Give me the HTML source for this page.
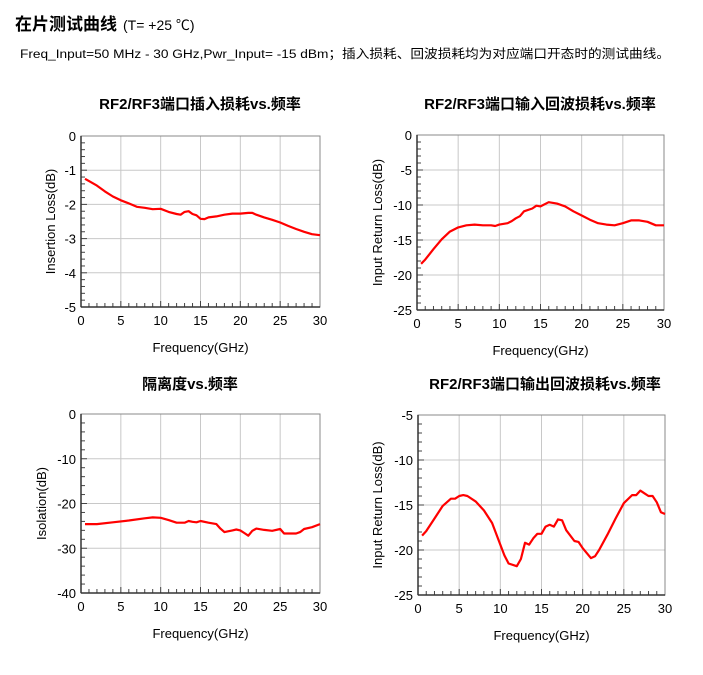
<!DOCTYPE html>
<html><head><meta charset="utf-8"><style>
body{margin:0;background:#fff;width:703px;height:675px;overflow:hidden;font-family:"Liberation Sans","Noto Sans CJK SC",sans-serif;}
svg{position:absolute;left:0;top:0}
</style></head><body>
<svg id="s" width="703" height="675" xmlns="http://www.w3.org/2000/svg">
<text x="15" y="30" font-size="17" font-weight="bold" fill="#000" font-family="Liberation Sans,Noto Sans CJK SC,sans-serif">在片测试曲线<tspan font-weight="normal" font-size="14" dx="6">(T= +25 ℃)</tspan></text>
<text x="20" y="58" font-size="12.4" fill="#000" textLength="650" lengthAdjust="spacingAndGlyphs" font-family="Liberation Sans,Noto Sans CJK SC,sans-serif">Freq_Input=50 MHz - 30 GHz,Pwr_Input= -15 dBm；插入损耗、回波损耗均为对应端口开态时的测试曲线。</text>
</svg>
<script>
// Chart 1: insertion loss
const c1X=[0.5,1,2,3,4,5,6,7,8,9,10,11,12,12.5,13,13.5,14,14.5,15,15.5,16,17,18,19,20,21,21.5,22,23,24,25,26,27,28,29,30];
const c1Y=[-1.25,-1.32,-1.45,-1.62,-1.77,-1.88,-1.97,-2.07,-2.1,-2.14,-2.13,-2.22,-2.28,-2.3,-2.22,-2.2,-2.28,-2.32,-2.42,-2.43,-2.38,-2.35,-2.3,-2.27,-2.27,-2.25,-2.25,-2.3,-2.38,-2.45,-2.53,-2.63,-2.72,-2.8,-2.87,-2.9];
// Chart 2: input return loss
const c2X=[0.5,1,2,3,4,5,6,7,8,9,9.5,10,11,11.5,12,12.5,13,14,14.5,15,16,17,18,19,20,21,22,23,24,25,26,27,28,29,30];
const c2Y=[-18.4,-17.8,-16.3,-14.9,-13.8,-13.2,-12.9,-12.8,-12.9,-12.9,-13.0,-12.8,-12.6,-12.3,-11.9,-11.6,-10.9,-10.5,-10.1,-10.2,-9.6,-9.8,-10.2,-10.9,-11.5,-12.1,-12.6,-12.8,-12.9,-12.6,-12.2,-12.2,-12.4,-12.9,-12.9];
// Chart 3: isolation
const c3X=[0.5,2,4,6,8,9,10,11,12,13,13.5,14,14.5,15,16,17,17.5,18,19,19.5,20,20.5,21,21.5,22,23,24,25,25.5,26,27,27.5,28,29,30];
const c3Y=[-24.6,-24.6,-24.2,-23.8,-23.3,-23.1,-23.2,-23.7,-24.3,-24.3,-23.9,-24.1,-24.2,-23.9,-24.3,-24.6,-25.6,-26.4,-26.0,-25.8,-26.0,-26.6,-27.2,-26.1,-25.6,-25.9,-26.1,-25.7,-26.7,-26.7,-26.7,-26.4,-25.7,-25.3,-24.6];
// Chart 4: output return loss
const c4X=[0.5,1,2,3,4,4.5,5,5.5,6,7,8,9,10,10.5,11,12,12.5,13,13.5,14,14.5,15,15.5,16,16.5,17,17.5,18,19,19.5,20,21,21.5,22,23,24,25,26,26.5,27,27.5,28,28.5,29,29.5,30];
const c4Y=[-18.4,-17.9,-16.5,-15.1,-14.3,-14.3,-14.0,-13.9,-14.0,-14.6,-15.6,-17.0,-19.4,-20.6,-21.5,-21.8,-21.0,-19.2,-19.4,-18.7,-18.2,-18.2,-17.4,-17.2,-17.4,-16.6,-16.7,-17.8,-19.0,-19.1,-19.8,-20.9,-20.7,-20.0,-18.3,-16.5,-14.8,-13.9,-13.9,-13.4,-13.7,-14.0,-14.0,-14.7,-15.8,-16.0];

const charts=[
 {n:'insertion-loss',title:'RF2/RF3端口插入损耗vs.频率',tx:200,ty:109,L:81,R:320,T:136,B:307,ymin:-5,ymax:0,ystep:1,ylab:'Insertion Loss(dB)',ylx:55,xs:c1X,ys:c1Y,yticks:['0','-1','-2','-3','-4','-5']},
 {n:'input-return-loss',title:'RF2/RF3端口输入回波损耗vs.频率',tx:540,ty:109,L:417,R:664,T:135,B:310,ymin:-25,ymax:0,ystep:5,ylab:'Input Return Loss(dB)',ylx:382,xs:c2X,ys:c2Y,yticks:['0','-5','-10','-15','-20','-25']},
 {n:'isolation',title:'隔离度vs.频率',tx:190,ty:389,L:81,R:320,T:414,B:593,ymin:-40,ymax:0,ystep:10,ylab:'Isolation(dB)',ylx:46,xs:c3X,ys:c3Y,yticks:['0','-10','-20','-30','-40']},
 {n:'output-return-loss',title:'RF2/RF3端口输出回波损耗vs.频率',tx:545,ty:389,L:418,R:665,T:415,B:595,ymin:-25,ymax:-5,ystep:5,ylab:'Input Return Loss(dB)',ylx:382,xs:c4X,ys:c4Y,yticks:['-5','-10','-15','-20','-25']}
];
const xticks=['0','5','10','15','20','25','30'];
const NS='http://www.w3.org/2000/svg';
const svg=document.getElementById('s');
function mk(tag,at,par){const e=document.createElementNS(NS,tag);for(const k in at)e.setAttribute(k,at[k]);(par||svg).appendChild(e);return e;}
charts.forEach(c=>{
 const g=mk('g',{});
 
 
 const sx=v=>c.L+(v-0)/30*(c.R-c.L);
 const sy=v=>c.T+(c.ymax-v)/(c.ymax-c.ymin)*(c.B-c.T);
 const t=mk('text',{x:c.tx,y:c.ty,'font-size':15,'font-weight':'bold','text-anchor':'middle',fill:'#000'},g);t.textContent=c.title;
 
 
 for(let i=1;i<6;i++){const l=mk('line',{x1:sx(i*5),x2:sx(i*5),y1:c.T,y2:c.B,stroke:'#c8c8c8','stroke-width':1},g);}
 for(let v=c.ymax-c.ystep;v>c.ymin+0.001;v-=c.ystep){const l=mk('line',{x1:c.L,x2:c.R,y1:sy(v),y2:sy(v),stroke:'#c8c8c8','stroke-width':1},g);}
 for(let i=0;i<=30;i++){const l=mk('line',{x1:sx(i),x2:sx(i),y1:c.B,y2:c.B-(i%5?4:6),stroke:'#444'},g);}
 const nm=(c.ymax-c.ymin)/c.ystep*5;
 for(let i=0;i<=nm;i++){const v=c.ymin+i*c.ystep/5;const l=mk('line',{x1:c.L,x2:c.L+(i%5?4:6),y1:sy(v),y2:sy(v),stroke:'#444'},g);}
 const fr=mk('rect',{x:c.L,y:c.T,width:c.R-c.L,height:c.B-c.T,fill:'none',stroke:'#888','stroke-width':1},g);
 
 mk('line',{x1:c.L,x2:c.L,y1:c.T,y2:c.B,stroke:'#333','stroke-width':1.5},g);
 mk('line',{x1:c.L,x2:c.R,y1:c.B,y2:c.B,stroke:'#333','stroke-width':1.5},g);
 xticks.forEach((s,i)=>{const e=mk('text',{x:sx(i*5),y:c.B+18,'font-size':13,'text-anchor':'middle',fill:'#000'},g);e.textContent=s;});
 c.yticks.forEach((s,i)=>{const e=mk('text',{x:c.L-5,y:sy(c.ymax-i*c.ystep)+5,'font-size':13,'text-anchor':'end',fill:'#000'},g);e.textContent=s;});
 const xl=mk('text',{x:(c.L+c.R)/2,y:c.B+45,'font-size':13,'text-anchor':'middle',fill:'#000'},g);xl.textContent='Frequency(GHz)';
 
 const yl=mk('text',{x:c.ylx,y:(c.T+c.B)/2,'font-size':13,'text-anchor':'middle',fill:'#000',transform:`rotate(-90 ${c.ylx} ${(c.T+c.B)/2})`},g);yl.textContent=c.ylab;
 
 const d=c.xs.map((x,i)=>(i?'L':'M')+sx(x).toFixed(1)+' '+sy(c.ys[i]).toFixed(1)).join(' ');
 const p=mk('path',{d:d,fill:'none',stroke:'#f00','stroke-width':2.2,'stroke-linejoin':'round'},g);
 
 
});
</script>
</body></html>
